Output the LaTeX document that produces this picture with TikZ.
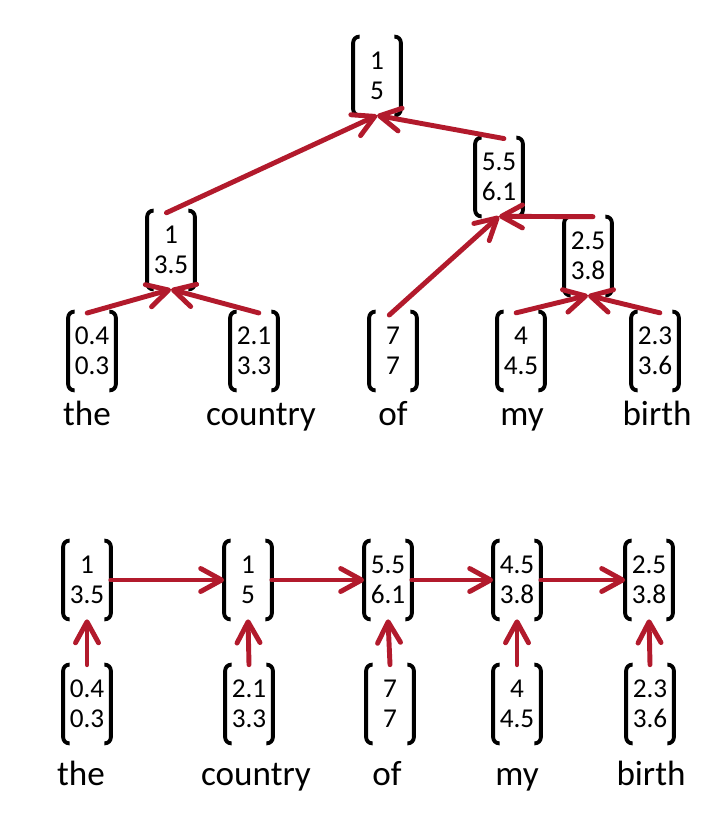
\documentclass[tikz,border=0pt]{standalone}
\usepackage{fontspec}
\setmainfont{Carlito}
\usetikzlibrary{arrows.meta}
\definecolor{arrowred}{RGB}{178,26,44}
\begin{document}
\begin{tikzpicture}
	  [
	    x                       = 0.02cm,
	    y                       = -0.02cm,
	    brkl/.style             = {draw, line width=2.2pt, rounded corners=0.12cm,
	                               to path={-| (\tikztotarget) -- ++(0.13cm,0)}},
	    brkr/.style             = {draw, line width=2.2pt, rounded corners=0.12cm,
	                               to path={-| (\tikztotarget) -- ++(-0.13cm,0)}},
	    vec/.style              = {minimum width=0.94cm, minimum height=1.56cm, inner sep=0pt,
	                               align=center, font=\fontsize{15.5}{17}\selectfont,
	                               append after command={
	                                 ([xshift=0.13cm]\tikzlastnode.north west) edge[brkl] (\tikzlastnode.south west)
	                                 ([xshift=-0.13cm]\tikzlastnode.north east) edge[brkr] (\tikzlastnode.south east)}},
	    word/.style             = {anchor=base, inner sep=0pt, font=\fontsize{20}{24}\selectfont},
	    arr/.style              = {draw=arrowred, line width=2.8pt, line cap=round,
	                               -{Straight Barb[length=0.42cm, width=0.46cm, round]}},
	    up/.style               = {arr, shorten <=-0.1cm}
		]
	  \useasboundingbox (0,0) rectangle (726,828);
	  % tree
	  \node[vec] (root) at (377,76) {1\\5};
	  \node[vec] (lft) at (171,250) {1\\3.5};
	  \node[vec] (mid) at (499,177) {5.5\\6.1};
	  \node[vec] (rgt) at (588,256) {2.5\\3.8};
	  \node[vec] (tthe) at (92,351) {0.4\\0.3};
	  \node[vec] (tcountry) at (254,351) {2.1\\3.3};
	  \node[vec] (tof) at (393,351) {7\\7};
	  \node[vec] (tmy) at (521,351) {4\\4.5};
	  \node[vec] (tbirth) at (655,351) {2.3\\3.6};
	  \node[word] (wtthe) at (87,425) {the};
	  \node[word] (wtcountry) at (261,425) {country};
	  \node[word] (wtof) at (393,425) {of};
	  \node[word] (wtmy) at (522,425) {my};
	  \node[word] (wtbirth) at (657,425) {birth};
	  \draw[up] (tthe.north) -- (lft.south);
	  \draw[up] (tcountry.north) -- (lft.south);
	  \draw[up] (lft.north) -- (root.south);
	  \draw[up] (mid.north) -- (root.south);
	  \draw[up] (tof.north) -- (mid.south);
	  \draw[up] (rgt.north) -- (mid.south);
	  \draw[up] (tmy.north) -- (rgt.south);
	  \draw[up] (tbirth.north) -- (rgt.south);
	  % chain
	  \node[vec] (hthe) at (87,580) {1\\3.5};
	  \node[vec] (hcountry) at (248,580) {1\\5};
	  \node[vec] (hof) at (388,580) {5.5\\6.1};
	  \node[vec] (hmy) at (517,580) {4.5\\3.8};
	  \node[vec] (hbirth) at (649,580) {2.5\\3.8};
	  \node[vec] (bthe) at (87,704) {0.4\\0.3};
	  \node[vec] (bcountry) at (249,704) {2.1\\3.3};
	  \node[vec] (bof) at (390,704) {7\\7};
	  \node[vec] (bmy) at (517,704) {4\\4.5};
	  \node[vec] (bbirth) at (650,704) {2.3\\3.6};
	  \node[word] (wbthe) at (81,785) {the};
	  \node[word] (wbcountry) at (256,785) {country};
	  \node[word] (wbof) at (387,785) {of};
	  \node[word] (wbmy) at (517,785) {my};
	  \node[word] (wbbirth) at (651,785) {birth};
	  \draw[arr] (hthe.east) -- (hcountry.west);
	  \draw[arr] (hcountry.east) -- (hof.west);
	  \draw[arr] (hof.east) -- (hmy.west);
	  \draw[arr] (hmy.east) -- (hbirth.west);
	  \draw[arr] (bthe.north) -- (hthe.south);
	  \draw[arr] (bcountry.north) -- (hcountry.south);
	  \draw[arr] (bof.north) -- (hof.south);
	  \draw[arr] (bmy.north) -- (hmy.south);
	  \draw[arr] (bbirth.north) -- (hbirth.south);
	\end{tikzpicture}
\end{document}
